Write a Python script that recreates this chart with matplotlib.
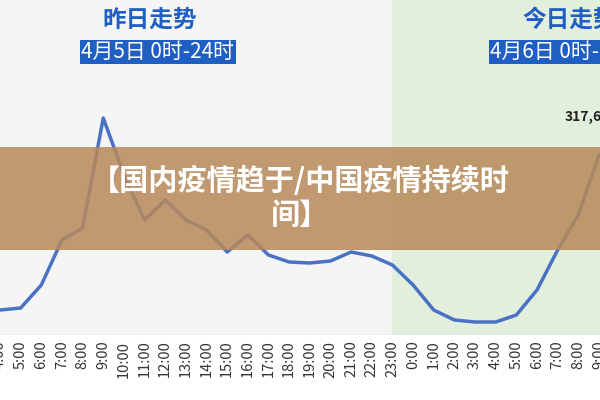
import matplotlib.pyplot as plt
from matplotlib.patches import Rectangle

plt.rcParams['font.family'] = ['Noto Sans CJK SC', 'DejaVu Sans']

hours = ['4:00', '5:00', '6:00', '7:00', '8:00', '9:00', '10:00', '11:00', '12:00',
         '13:00', '14:00', '15:00', '16:00', '17:00', '18:00', '19:00', '20:00',
         '21:00', '22:00', '23:00', '0:00', '1:00', '2:00', '3:00', '4:00', '5:00',
         '6:00', '7:00', '8:00', '9:00']
values = [30, 32, 55, 100, 112, 222, 165, 120, 140, 120, 110, 88, 105, 85, 78,
          77, 79, 88, 84, 75, 55, 30, 20, 18, 18, 25, 50, 90, 125, 185]

fig = plt.figure(figsize=(6, 4), dpi=100)
ax = fig.add_axes([0, 0.1625, 1, 0.8375])
x = list(range(len(hours)))
ax.set_xlim(0, 29.05)
ax.set_ylim(5, 340)
ax.set_facecolor('#f5f5f5')
ax.axvspan(19, 30, color='#e2efdc', zorder=0)
ax.plot(x, values, color='#4a72c4', lw=2.5, solid_joinstyle='round')
ax.set_xticks(x)
ax.set_xticklabels(hours, rotation=90, fontsize=10.5, color='#333333')
ax.tick_params(axis='x', length=0, pad=4)
ax.set_yticks([])
for s in ax.spines.values():
    s.set_visible(False)
ax.axhline(5.5, color='#dddddd', lw=1)

fig.text(150 / 600, 1 - 20 / 400, '昨日走势', color='#1f5fc4', fontsize=17,
         fontweight='bold', ha='center', va='center')
fig.text(158 / 600, 1 - 52 / 400, '4月5日 0时-24时', color='white', fontsize=15,
         ha='center', va='center', bbox=dict(fc='#1f5fc4', ec='none', pad=1))
fig.text(522 / 600, 1 - 20 / 400, '今日走势', color='#1f5fc4', fontsize=17,
         fontweight='bold', ha='left', va='center')
fig.text(490 / 600, 1 - 52 / 400, '4月6日 0时-24时', color='white', fontsize=15,
         ha='left', va='center', bbox=dict(fc='#1f5fc4', ec='none', pad=1))
fig.text(565 / 600, 1 - 117 / 400, '317,620', color='#222222', fontsize=10,
         fontweight='bold', ha='left', va='center')

fig.patches.append(Rectangle((0, 1 - 250 / 400), 1, 103 / 400, transform=fig.transFigure,
                             fc='#b8895a', alpha=0.85, ec='none', zorder=5))
fig.text(0.5, 1 - 198 / 400, '【国内疫情趋于/中国疫情持续时\n间】', color='white',
         fontsize=21, fontweight='bold', ha='center', va='center', zorder=6,
         linespacing=1.15)

fig.savefig('out.png', dpi=100)
